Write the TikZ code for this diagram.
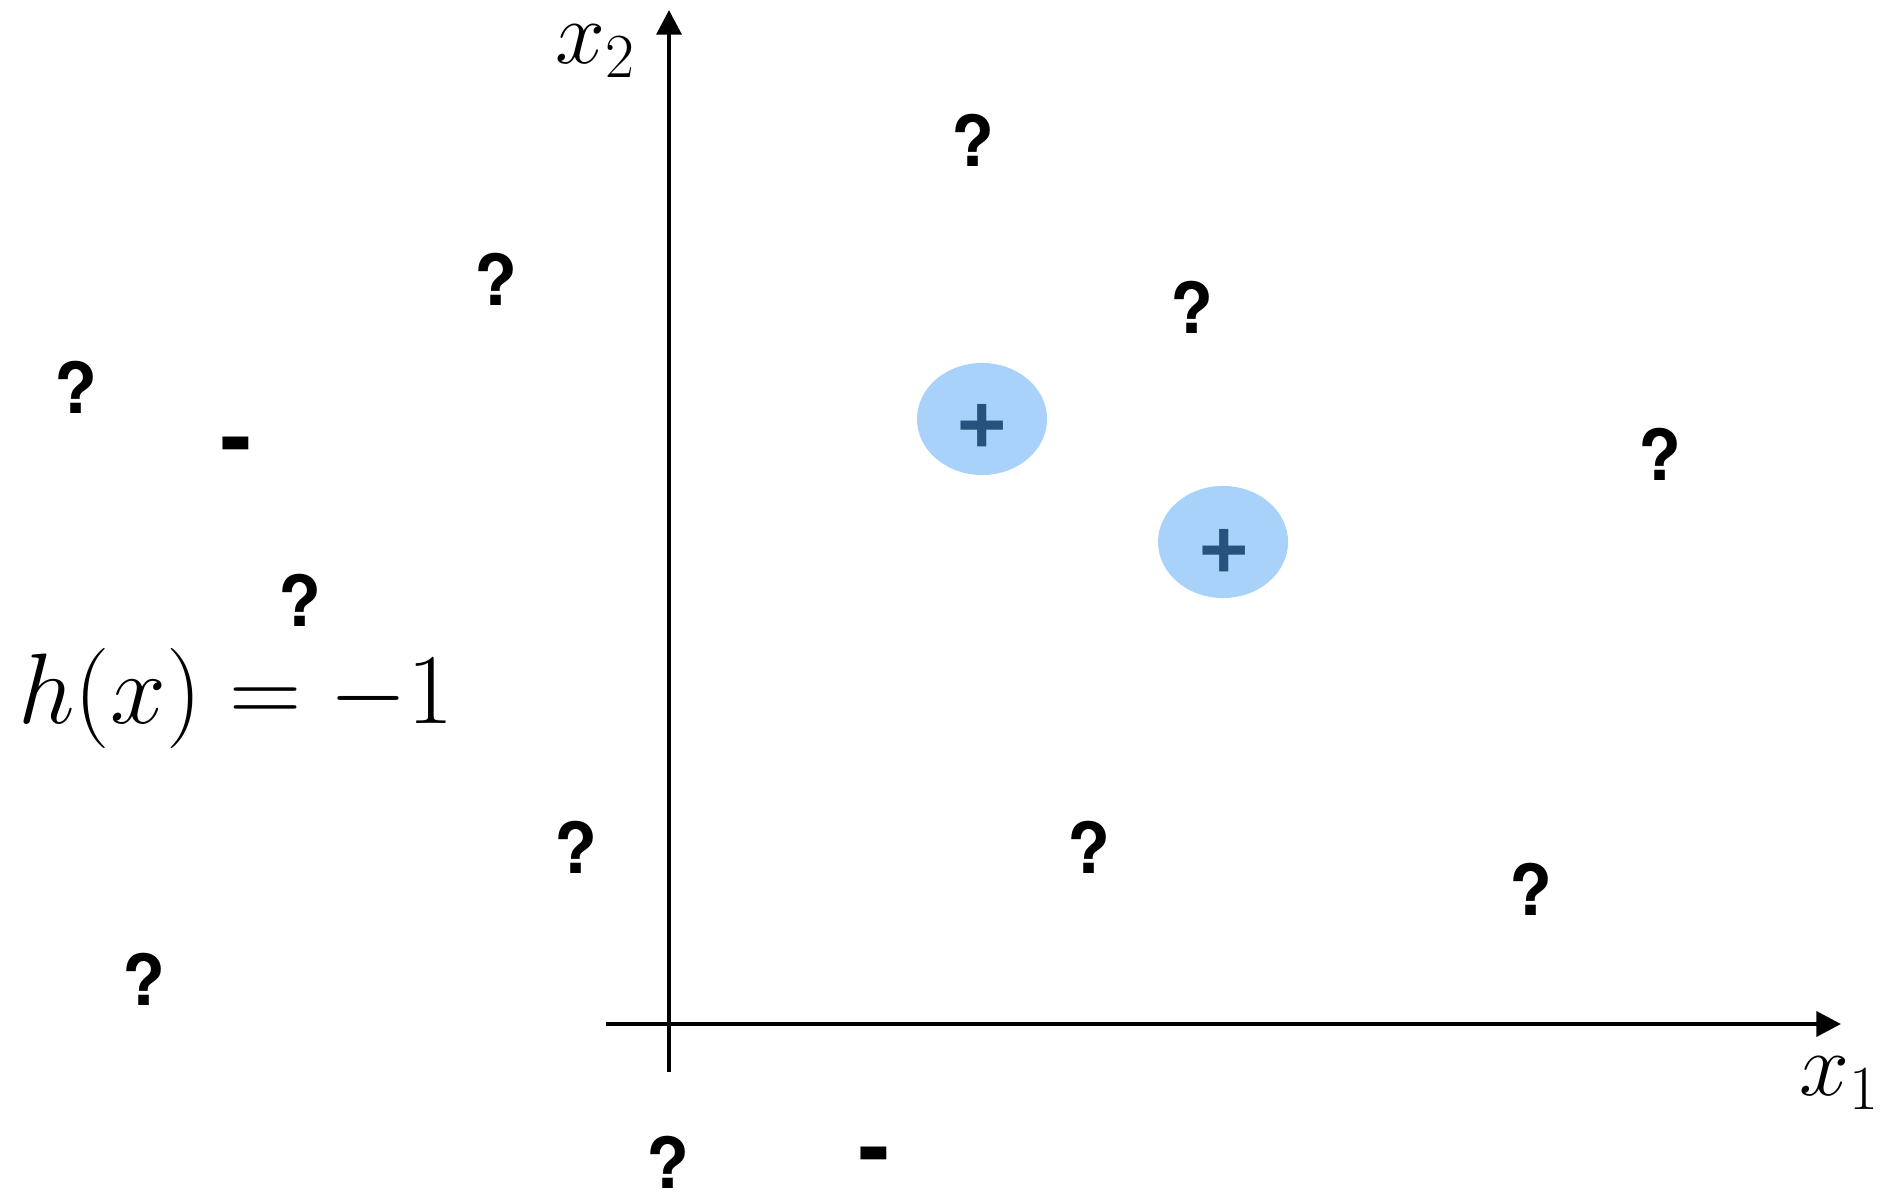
\RequirePackage{fix-cm}
\documentclass[tikz,border=0pt]{standalone}
\usepackage{fontspec}
\newfontfamily\markfont{TeX Gyre Heros}
\definecolor{blobfill}{RGB}{168, 210, 250}
\definecolor{plusink}{RGB}{39, 82, 126}
\usetikzlibrary{arrows.meta, shapes.geometric}

\tikzset{
    axis/.style={line width=1.3pt, -{Triangle[length=7pt, width=7pt]}},
    axislabel/.style={inner sep=0pt, font=\fontsize{25.5}{30}\selectfont},
    query/.style={inner sep=0pt, font=\markfont\bfseries\fontsize{20}{24}\selectfont},
    negpt/.style={inner sep=0pt, anchor=north, font=\markfont\bfseries\fontsize{27}{30}\selectfont},
    blob/.style={ellipse, fill=blobfill, inner sep=0pt, minimum width=1.30cm, minimum height=1.12cm},
    pospt/.style={inner sep=0pt, text=plusink, font=\markfont\bfseries\fontsize{26}{30}\selectfont}
}

\begin{document}
\begin{tikzpicture}[x=0.01cm, y=-0.01cm]
        \useasboundingbox (0,0) rectangle (1883,1192);

        % axes
        \coordinate (x1start) at (606,1024);
        \coordinate (x1end) at (1841,1024);
        \coordinate (x2start) at (669,1072);
        \coordinate (x2end) at (669,10);
        \draw[axis] (x1start) -- (x1end);
        \draw[axis] (x2start) -- (x2end);
        \node[axislabel] (x1lab) at (1840,1083) {$x_1$};
        \node[axislabel] (x2lab) at (596,51) {$x_2$};

        % hypothesis
        \node[inner sep=0pt, font=\fontsize{28.5}{34}\selectfont] (hyp) at (236,698) {$h(x) = -1$};

        % labelled positives
        \node[blob] (blob1) at (982,419) {};
        \node[blob] (blob2) at (1223,542) {};
        \node[pospt] (pos1) at (982,426) {+};
        \node[pospt] (pos2) at (1224,551) {+};

        % labelled negatives
        \node[negpt] (neg1) at (236,436) {-};
        \node[negpt] (neg2) at (874,1146) {-};

        % unlabelled points
        \foreach \name/\px/\py in {q1/973/140, q2/496/279, q3/1192/307, q4/76/387,
                q5/1660/454, q6/300/600, q7/576/847, q8/1089/847,
                q9/1531/889, q10/144/979, q11/668/1162} {
            \node[query] (\name) at (\px,\py) {?};
        }
\end{tikzpicture}
\end{document}
